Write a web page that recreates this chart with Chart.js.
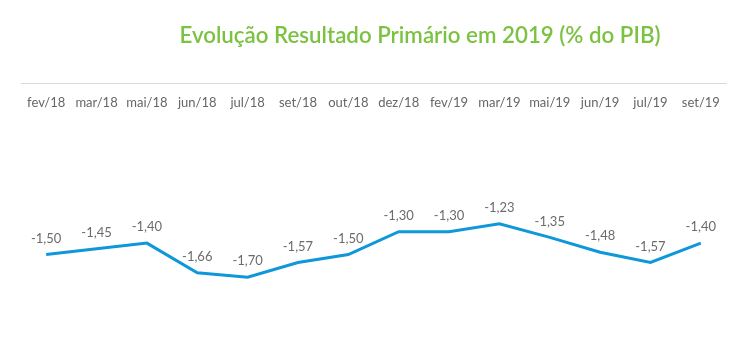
<!DOCTYPE html>
<html>
<head>
<meta charset="utf-8">
<script src="https://cdn.jsdelivr.net/npm/chart.js@4/dist/chart.umd.min.js"></script>
<style>
  html, body { margin: 0; padding: 0; background: #ffffff; }
  #wrap { position: relative; width: 751px; height: 357px; }
  #title { position: absolute; left: 420px; top: 34px; transform: translate(-50%, -50%);
           white-space: nowrap; font-family: Lato, "Open Sans", sans-serif; font-size: 22.3px;
           font-weight: 600; color: #7cc242; }
  canvas { position: absolute; left: 0; top: 0; }
</style>
</head>
<body>
<div id="wrap">
  <canvas id="c" width="751" height="357"></canvas>
  <div id="title">Evolução Resultado Primário em 2019 (% do PIB)</div>
</div>
<script>
const categories = ["fev/18","mar/18","mai/18","jun/18","jul/18","set/18","out/18","dez/18","fev/19","mar/19","mai/19","jun/19","jul/19","set/19"];
const resultadoPrimario = [-1.50,-1.45,-1.40,-1.66,-1.70,-1.57,-1.50,-1.30,-1.30,-1.23,-1.35,-1.48,-1.57,-1.40];
const yRange = { min: -2, max: 0 };

const valueLabels = {
  id: 'valueLabels',
  afterDatasetsDraw(chart) {
    const ctx = chart.ctx;
    const meta = chart.getDatasetMeta(0);
    const data = chart.data.datasets[0].data;
    ctx.save();
    ctx.font = '13px Lato, "Open Sans", sans-serif';
    ctx.fillStyle = '#6b6b6b';
    ctx.textAlign = 'center';
    ctx.textBaseline = 'middle';
    meta.data.forEach((pt, i) => {
      ctx.fillText(data[i].toFixed(2).replace('.', ','), pt.x, pt.y - 16);
    });
    ctx.restore();
  }
};

new Chart(document.getElementById('c'), {
  type: 'line',
  data: {
    labels: categories,
    datasets: [{
      data: resultadoPrimario,
      borderColor: '#0e97d9',
      borderWidth: 3,
      pointRadius: 0,
      tension: 0,
      fill: false
    }]
  },
  options: {
    responsive: false,
    animation: false,
    layout: { padding: { left: 21, right: 25, top: 83.5, bottom: 45.5 } },
    plugins: { legend: { display: false }, title: { display: false }, tooltip: { enabled: false } },
    scales: {
      x: {
        position: { y: 0 },
        offset: true,
        grid: { display: false },
        border: { display: true, color: '#d9d9d9', width: 1 },
        ticks: { color: '#666666', font: { family: 'Lato, "Open Sans", sans-serif', size: 13 },
                 padding: 4, autoSkip: false, maxRotation: 0 }
      },
      y: { display: false, min: yRange.min, max: yRange.max }
    }
  },
  plugins: [valueLabels]
});
</script>
</body>
</html>
